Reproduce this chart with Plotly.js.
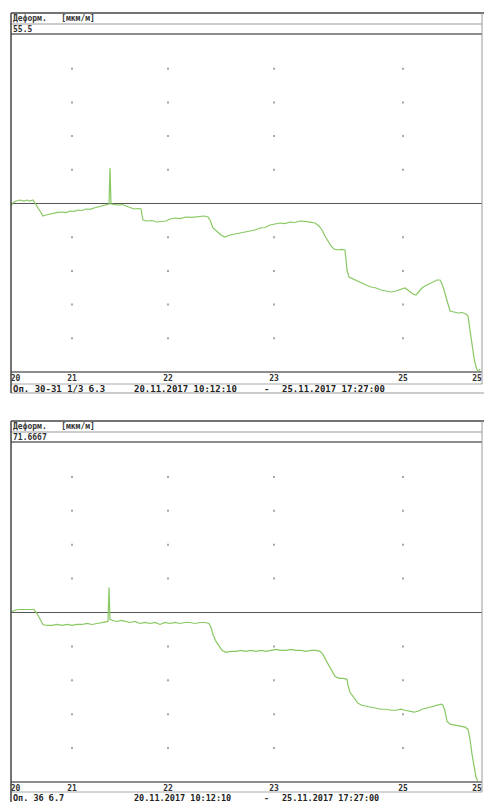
<!DOCTYPE html>
<html><head><meta charset="utf-8">
<script src="https://cdn.plot.ly/plotly-3.0.1.min.js"></script>
<style>html,body{margin:0;padding:0;background:#fff}#c{width:484px;height:802px}</style>
</head><body><div id="c"></div>
<script>
// ---- data ----
const tickSamples = [4.5, 61, 157, 263, 392, 466];
const tickLabels = ['20', '21', '22', '23', '25', '25'];
const gridSamples = [61, 157, 263, 392];

const topTitle = 'Деформ.   [мкм/м]';
const topScale = 55.5;
const topFooter = 'Оп. 30-31 1/3 б.3';
const botTitle = 'Деформ.   [мкм/м]';
const botScale = 71.6667;
const botFooter = 'Оп. 36 б.7';
const periodStart = '20.11.2017 10:12:10';
const periodEnd = '25.11.2017 17:27:00';

const topX = [0,2,5,9,13,16,19,22,24,27,30,32,35,39,43,47,51,55,59,63,67,71,75,79,83,87,91,95,98,99,
100,103,107,111,115,119,123,127,130,131,132,136,141,146,151,155,159,164,169,175,181,187,193,197,199,202,206,210,214,219,
224,229,234,239,244,249,254,259,264,269,274,279,284,289,294,299,304,308,311,314,317,320,323,327,331,334,335,336,338,342,
346,350,355,360,365,370,375,380,385,389,394,398,402,405,408,411,414,418,422,426,429,431,433,435,437,439,443,447,451,455,
457,459,461,463,465,467,469];
const topY = [-0.82,0.16,0.82,1.15,0.82,1.15,0.82,1.15,0.16,-1.48,
-3.13,-4.12,-3.79,-3.46,-3.13,-2.95,-2.80,-3.0,-2.47,-2.6,
-2.14,-2.3,-1.81,-1.95,-1.48,-1.15,-0.95,-0.49,-0.16,11.69,
-0.16,-0.3,-0.49,-0.35,-0.82,-1.48,-1.81,-1.65,-1.81,-3.79,
-5.44,-5.76,-5.6,-6.09,-5.9,-5.76,-5.11,-4.78,-4.95,-4.45,
-4.6,-4.45,-4.12,-4.45,-5.44,-8.07,-9.39,-10.38,-11.03,-10.38,
-10.05,-9.72,-9.5,-9.06,-8.73,-8.07,-7.9,-7.08,-6.75,-6.42,
-6.6,-6.09,-6.25,-5.76,-5.9,-6.09,-6.42,-7.41,-8.73,-10.71,
-12.35,-14.00,-14.99,-15.32,-15.1,-15.32,-18.61,-21.91,-24.21,-24.87,
-25.53,-26.19,-26.85,-27.50,-27.83,-28.49,-28.82,-29.15,-28.82,-28.49,
-27.83,-28.82,-29.81,-30.14,-28.82,-27.83,-27.18,-26.52,-25.86,-25.20,
-25.20,-26.52,-28.49,-31.13,-33.76,-35.41,-35.74,-36.07,-35.9,-36.40,
-37.06,-41.67,-46.61,-50.89,-53.86,-55.50,-54.52];

const botX = [0,3,7,11,15,19,23,26,29,32,36,41,46,51,56,61,66,71,76,81,86,90,94,97,98,99,102,106,110,114,
119,124,129,134,139,144,149,154,159,164,169,174,179,184,189,194,198,200,202,205,208,211,215,220,225,230,235,240,245,250,
255,260,265,270,275,280,285,290,295,300,305,309,312,315,318,321,324,328,332,336,337,339,343,347,351,355,360,365,370,375,
380,385,390,394,399,403,407,411,415,419,423,427,430,432,434,436,439,444,449,454,457,459,461,463,465,467];
const botY = [0,0.84,1.26,1.26,1.26,1.26,1.26,-0.42,-2.95,-5.06,
-5.48,-5.48,-5.06,-5.48,-5.06,-5.48,-5.06,-5.06,-4.64,-5.06,
-4.64,-4.22,-3.79,-3.79,10.54,-2.95,-3.37,-3.79,-3.37,-3.79,
-4.22,-3.79,-4.64,-4.22,-4.64,-4.22,-5.06,-4.22,-4.64,-4.22,
-4.64,-4.22,-4.22,-4.64,-4.22,-4.22,-4.64,-6.32,-9.28,-12.23,
-14.33,-16.02,-16.86,-16.44,-16.44,-16.02,-16.44,-16.02,-16.44,-16.02,
-16.44,-16.02,-15.60,-16.02,-16.02,-15.60,-16.02,-16.02,-16.44,-16.02,
-16.02,-16.44,-17.71,-20.24,-22.34,-24.87,-26.98,-27.83,-27.83,-28.25,
-30.78,-33.73,-36.26,-38.37,-39.21,-39.63,-40.05,-40.47,-40.90,-40.90,
-41.32,-41.32,-40.90,-41.32,-41.74,-42.16,-41.74,-40.90,-40.47,-40.05,
-39.63,-39.21,-38.79,-39.21,-41.74,-45.95,-47.22,-47.64,-48.06,-48.48,
-49.33,-53.54,-59.87,-65.35,-69.56,-71.67];

// ---- layout helpers ----
const W = 484, H = 802;
const px = v => v / W;
const py = v => 1 - v / H;
const green = 'rgb(136,200,98)';
const mono = 'DejaVu Sans Mono';

function dots(xa, ya, scale) {
  const xs = [], ys = [];
  const divs = [-4, -3, -2, -1, 1, 2, 3, 4];
  gridSamples.forEach(g => divs.forEach(d => { xs.push(g); ys.push(d * scale / 5); }));
  return {x: xs, y: ys, xaxis: xa, yaxis: ya, type: 'scatter', mode: 'markers',
    marker: {symbol: 'square', size: 2, color: '#a8a8a8'}, hoverinfo: 'skip', showlegend: false};
}

const traces = [
  dots('x', 'y', topScale),
  dots('x2', 'y2', botScale),
  {x: topX, y: topY, xaxis: 'x', yaxis: 'y', type: 'scatter', mode: 'lines',
   line: {color: green, width: 1.2}, showlegend: false},
  {x: botX, y: botY, xaxis: 'x2', yaxis: 'y2', type: 'scatter', mode: 'lines',
   line: {color: green, width: 1.2}, showlegend: false}
];

function xaxisDef() {
  return {domain: [px(11), px(482)], range: [0, 471], tickvals: tickSamples, ticktext: tickLabels,
    ticks: '', showgrid: false, zeroline: false, showline: false, fixedrange: true,
    tickfont: {family: mono, size: 8, color: '#333', weight: 'bold'}, ticklabelstandoff: 0};
}
function yaxisDef(scale, top, bottom) {
  return {domain: [py(bottom), py(top)], range: [-scale, scale], showticklabels: false, ticks: '',
    showgrid: false, zeroline: true, zerolinecolor: '#555', zerolinewidth: 1.5, showline: false, fixedrange: true};
}

function panelShapes(o, plotBottom, tickBottom, footBottom) {
  const L = px(11), R = px(482);
  const ln = (y, c, w, r) => ({type: 'line', xref: 'paper', yref: 'paper', x0: L, x1: r || R, y0: py(y), y1: py(y), line: {color: c, width: w}});
  return [
    ln(o, '#444', 1.5, px(484)),
    ln(o + 11, '#999', 1),
    ln(o + 21, '#8c8c8c', 2),
    ln(plotBottom, '#8c8c8c', 2),
    ln(tickBottom, '#aaa', 1),
    ln(footBottom, '#999', 1, px(484)),
    {type: 'line', xref: 'paper', yref: 'paper', x0: L, x1: L, y0: py(o), y1: py(footBottom), line: {color: '#444', width: 1.5}},
    {type: 'line', xref: 'paper', yref: 'paper', x0: R, x1: R, y0: py(o), y1: py(tickBottom), line: {color: '#999', width: 1}}
  ];
}

function ann(text, x, y, size, color) {
  return {text: text, xref: 'paper', yref: 'paper', x: px(x), y: py(y), xanchor: 'left', yanchor: 'middle',
    showarrow: false, font: {family: mono, size: size, color: color || '#222', weight: 'bold'}};
}

const layout = {
  width: W, height: H, margin: {l: 0, r: 0, t: 0, b: 0},
  paper_bgcolor: '#fff', plot_bgcolor: '#fff', showlegend: false,
  xaxis: Object.assign(xaxisDef(), {anchor: 'y'}), yaxis: yaxisDef(topScale, 35, 372),
  xaxis2: Object.assign(xaxisDef(), {anchor: 'y2'}), yaxis2: Object.assign(yaxisDef(botScale, 443, 782), {anchor: 'x2'}),
  shapes: [].concat(panelShapes(13, 372, 384, 393), panelShapes(421, 782, 792, 803)),
  annotations: [
    ann(topTitle, 11, 18.5, 8, '#333'),
    ann(String(topScale), 11, 29, 8, '#333'),
    ann(topFooter, 11, 389, 9),
    ann(periodStart, 132, 389, 9),
    ann('-', 262, 389, 9),
    ann(periodEnd, 280, 389, 9),
    ann(botTitle, 11, 426.5, 8, '#333'),
    ann(String(botScale), 11, 437, 8, '#333'),
    ann(botFooter, 11, 797.5, 8.5),
    ann(periodStart, 132, 797.5, 8.5),
    ann('-', 262, 797.5, 8.5),
    ann(periodEnd, 280, 797.5, 8.5)
  ]
};

Plotly.newPlot('c', traces, layout, {displayModeBar: false, staticPlot: true});
</script></body></html>
